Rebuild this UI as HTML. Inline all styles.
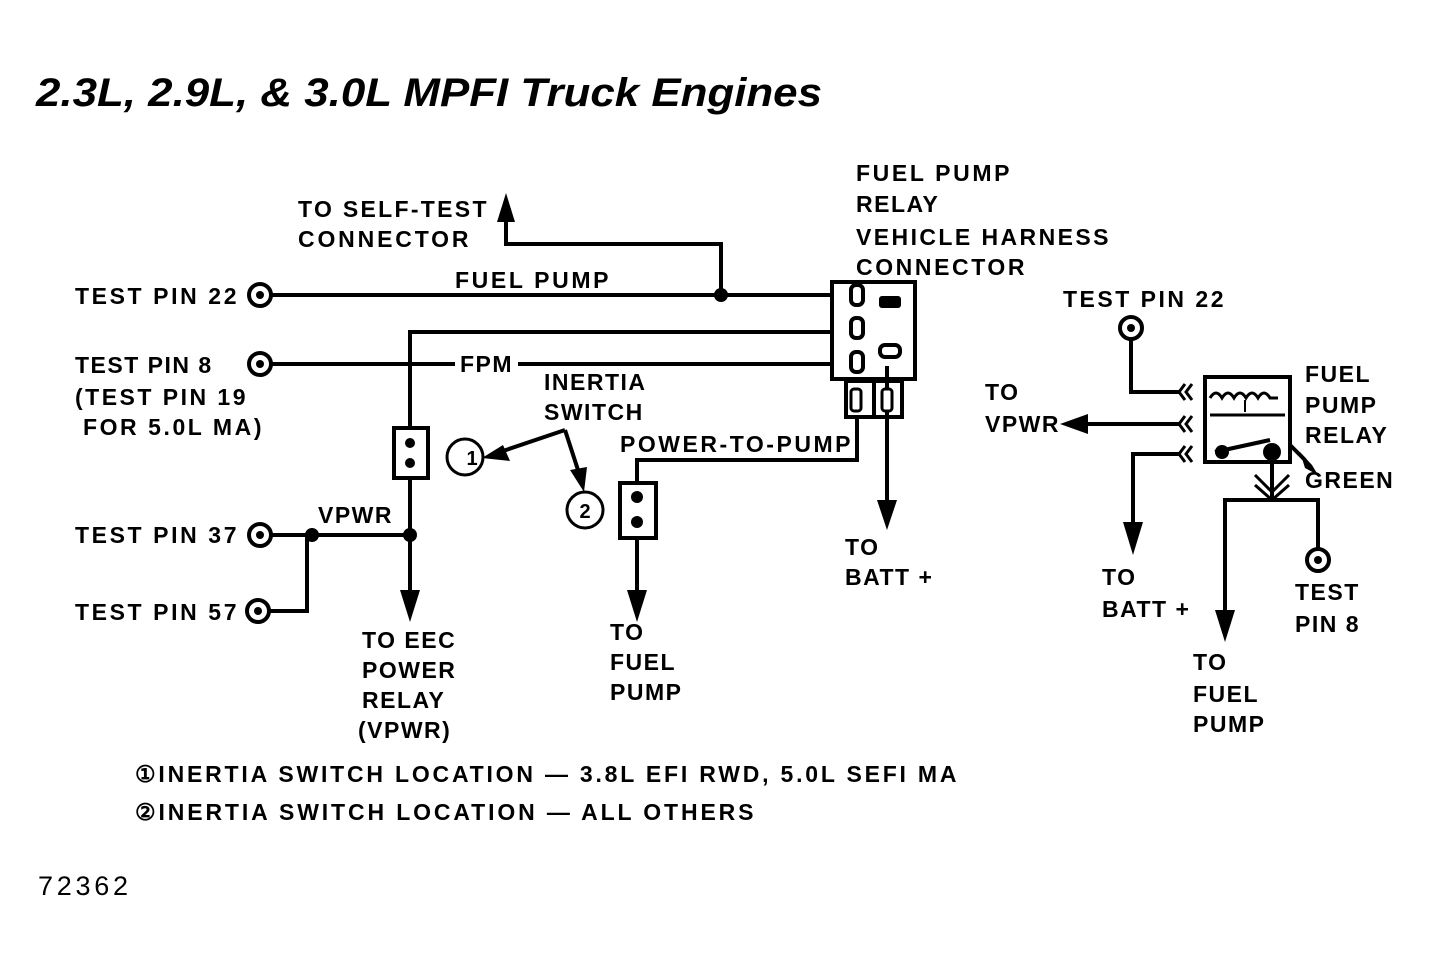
<!DOCTYPE html>
<html><head><style>
html,body{margin:0;padding:0;background:#fff;}
svg{display:block}
text{font-family:"Liberation Sans",sans-serif;font-weight:bold;fill:#000;}
.l{font-size:23px;letter-spacing:1.5px;}
</style></head><body>
<svg width="1435" height="970" viewBox="0 0 1435 970" xmlns="http://www.w3.org/2000/svg">
<g stroke="#000" stroke-width="4" fill="none">
<line x1="271" y1="295" x2="832" y2="295"/>
<polyline points="721,295 721,244 506,244 506,220"/>
<line x1="271" y1="364" x2="455" y2="364"/>
<line x1="518" y1="364" x2="832" y2="364"/>
<polyline points="832,332 410,332 410,428"/>
<line x1="410" y1="478" x2="410" y2="595"/>
<line x1="271" y1="535" x2="410" y2="535"/>
<polyline points="312,535 307,535 307,611 269,611"/>
<rect x="394" y="428" width="34" height="50"/>
<rect x="832" y="282" width="83" height="97"/>
<rect x="846" y="381" width="56" height="36"/>
<line x1="874" y1="381" x2="874" y2="417"/>
<polyline points="857,417 857,460 637,460 637,483"/>
<line x1="637" y1="538" x2="637" y2="595"/>
<rect x="620" y="483" width="36" height="55"/>
<line x1="887" y1="366" x2="887" y2="505"/>
<line x1="565" y1="430" x2="500" y2="452"/>
<line x1="565" y1="430" x2="578" y2="470"/>
<polyline points="1131,340 1131,392 1180,392"/>
<line x1="1085" y1="424" x2="1180" y2="424"/>
<polyline points="1180,454 1133,454 1133,525"/>
<rect x="1205" y="377" width="85" height="85"/>
<line x1="1272" y1="462" x2="1272" y2="500"/>
<polyline points="1225,615 1225,500 1318,500 1318,548"/>
<line x1="1290" y1="445" x2="1305" y2="460"/>
<path d="M1210,398 q6,-10 12,0 q6,-10 12,0 q6,-10 12,0 q6,-10 12,0 q6,-10 12,0 l8,0" stroke-width="3"/>
<line x1="1210" y1="415" x2="1285" y2="415" stroke-width="3"/>
<line x1="1245" y1="400" x2="1245" y2="412" stroke-width="2"/>
<line x1="1215" y1="452" x2="1270" y2="440" stroke-width="4"/>
<path d="M1185,384 l-6,8 l6,8 M1192,384 l-6,8 l6,8 M1185,416 l-6,8 l6,8 M1192,416 l-6,8 l6,8 M1185,446 l-6,8 l6,8 M1192,446 l-6,8 l6,8" stroke-width="3"/>
<path d="M1255,475 l17,17 l17,-17 M1255,485 l17,15 l17,-15" stroke-width="3"/>
<circle cx="260" cy="295" r="11"/><circle cx="260" cy="364" r="11"/>
<circle cx="260" cy="535" r="11"/><circle cx="258" cy="611" r="11"/>
<circle cx="1131" cy="328" r="11"/><circle cx="1318" cy="560" r="11"/>
<circle cx="465" cy="457" r="18" stroke-width="3"/>
<circle cx="585" cy="510" r="18" stroke-width="3"/>
</g>
<g fill="#000">
<circle cx="260" cy="295" r="4"/><circle cx="260" cy="364" r="4"/>
<circle cx="260" cy="535" r="4"/><circle cx="258" cy="611" r="4"/>
<circle cx="1131" cy="328" r="4"/><circle cx="1318" cy="560" r="4"/>
<circle cx="721" cy="295" r="7"/><circle cx="410" cy="535" r="7"/><circle cx="312" cy="535" r="7"/>
<circle cx="1272" cy="452" r="9"/><circle cx="1222" cy="452" r="7"/>
<polygon points="497,222 515,222 506,193"/>
<polygon points="400,590 420,590 410,622"/>
<polygon points="627,590 647,590 637,622"/>
<polygon points="877,500 897,500 887,530"/>
<polygon points="1123,522 1143,522 1133,555"/>
<polygon points="1215,610 1235,610 1225,642"/>
<polygon points="1088,414 1088,434 1060,424"/>
<polygon points="503,445 510,461 482,458"/>
<polygon points="570,470 587,467 584,492"/>
<polygon points="1300,452 1312,465 1318,475 1305,468"/>
<circle cx="410" cy="443" r="5"/><circle cx="410" cy="463" r="5"/>
<circle cx="637" cy="497" r="6"/><circle cx="637" cy="522" r="6"/>
<rect x="879" y="296" width="22" height="12" rx="3"/>
</g>
<g fill="#fff" stroke="#000" stroke-width="4">
<rect x="851" y="285" width="12" height="20" rx="5"/>
<rect x="851" y="318" width="12" height="20" rx="5"/>
<rect x="851" y="352" width="12" height="20" rx="5"/>
<rect x="880" y="345" width="20" height="12" rx="5"/>
<rect x="851" y="389" width="10" height="22" rx="3" stroke-width="3"/>
<rect x="882" y="389" width="10" height="22" rx="3" stroke-width="3"/>
</g>
<text x="36" y="106" style="font-size:40px;font-style:italic;" textLength="786" lengthAdjust="spacingAndGlyphs">2.3L, 2.9L, &amp; 3.0L MPFI Truck Engines</text>
<g class="l">
<text x="298" y="217" textLength="190">TO SELF-TEST</text>
<text x="298" y="247" textLength="172">CONNECTOR</text>
<text x="455" y="288" textLength="155">FUEL PUMP</text>
<text x="75" y="304" textLength="163">TEST PIN 22</text>
<text x="460" y="372">FPM</text>
<text x="75" y="373">TEST PIN 8</text>
<text x="75" y="405" textLength="172">(TEST PIN 19</text>
<text x="83" y="435" textLength="180">FOR 5.0L MA)</text>
<text x="544" y="390">INERTIA</text>
<text x="544" y="420">SWITCH</text>
<text x="620" y="452" textLength="232">POWER-TO-PUMP</text>
<text x="318" y="523">VPWR</text>
<text x="75" y="543" textLength="163">TEST PIN 37</text>
<text x="75" y="620" textLength="163">TEST PIN 57</text>
<text x="362" y="648">TO EEC</text>
<text x="362" y="678">POWER</text>
<text x="362" y="708">RELAY</text>
<text x="358" y="738">(VPWR)</text>
<text x="610" y="640">TO</text>
<text x="610" y="670">FUEL</text>
<text x="610" y="700">PUMP</text>
<text x="845" y="555">TO</text>
<text x="845" y="585">BATT +</text>
<text x="856" y="181" textLength="155">FUEL PUMP</text>
<text x="856" y="212">RELAY</text>
<text x="856" y="245" textLength="254">VEHICLE HARNESS</text>
<text x="856" y="275" textLength="170">CONNECTOR</text>
<text x="1063" y="307" textLength="162">TEST PIN 22</text>
<text x="985" y="400">TO</text>
<text x="985" y="432">VPWR</text>
<text x="1305" y="382">FUEL</text>
<text x="1305" y="413">PUMP</text>
<text x="1305" y="443">RELAY</text>
<text x="1305" y="488">GREEN</text>
<text x="1102" y="585">TO</text>
<text x="1102" y="617">BATT +</text>
<text x="1295" y="600">TEST</text>
<text x="1295" y="632">PIN 8</text>
<text x="1193" y="670">TO</text>
<text x="1193" y="702">FUEL</text>
<text x="1193" y="732">PUMP</text>
<text x="135" y="782" textLength="823">①INERTIA SWITCH LOCATION — 3.8L EFI RWD, 5.0L SEFI MA</text>
<text x="135" y="820" textLength="620">②INERTIA SWITCH LOCATION — ALL OTHERS</text>
</g>
<text x="472" y="465" style="font-size:20px;text-anchor:middle">1</text>
<text x="585" y="518" style="font-size:20px;text-anchor:middle">2</text>
<text x="38" y="895" style="font-size:27px;font-weight:normal" textLength="90">72362</text>
</svg>
</body></html>
